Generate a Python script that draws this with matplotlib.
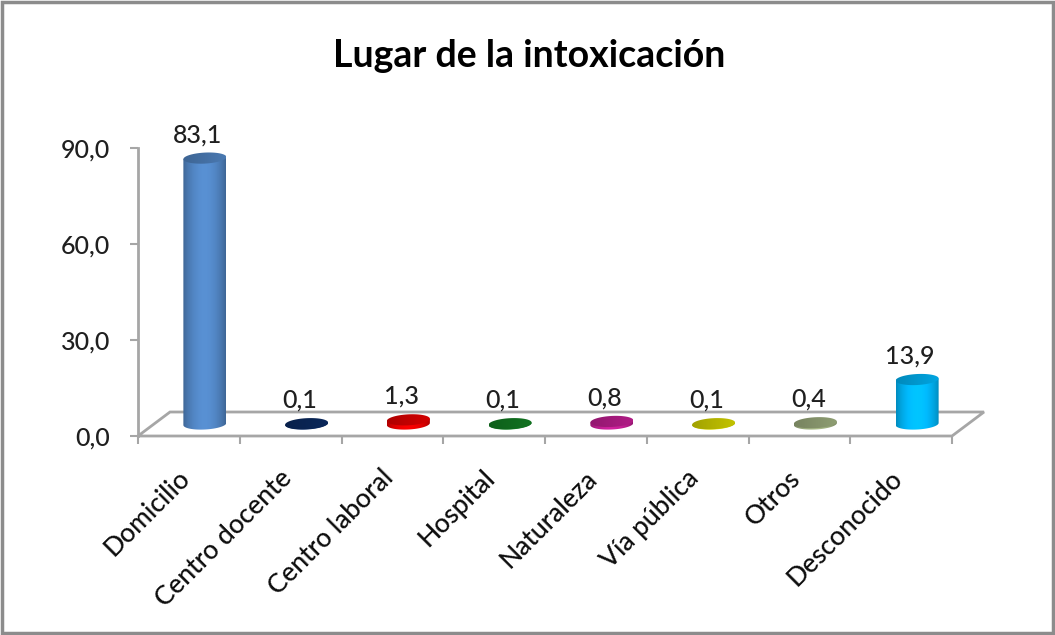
import numpy as np
import matplotlib
matplotlib.use("Agg")
import matplotlib.pyplot as plt
from matplotlib.patches import Polygon, Rectangle
from matplotlib.colors import to_rgb

# ---- data ----
categories = ["Domicilio", "Centro docente", "Centro laboral", "Hospital",
              "Naturaleza", "Vía pública", "Otros", "Desconocido"]
values = [83.1, 0.1, 1.3, 0.1, 0.8, 0.1, 0.4, 13.9]
bar_colors = ["#4F81BD", "#0B2A60", "#E00000", "#127A22",
              "#BB1E8E", "#CFCF00", "#98A87A", "#00B0F0"]
yticks = [0, 30, 60, 90]
ytick_labels = ["0,0", "30,0", "60,0", "90,0"]
title = "Lugar de la intoxicación"

plt.rcParams['font.family'] = ['Lato', 'DejaVu Sans']
plt.rcParams['font.weight'] = 'medium'

W_PX, H_PX = 1055, 635
fig = plt.figure(figsize=(W_PX / 100, H_PX / 100), dpi=100)
fig.patch.set_facecolor('white')

# axes: front plane of the 3D box
ax_l, ax_b, ax_w, ax_h = 138, 199, 814, 288
ax = fig.add_axes([ax_l / W_PX, ax_b / H_PX, ax_w / W_PX, ax_h / H_PX])
n = len(categories)
ax.set_xlim(0, n)
ax.set_ylim(0, 90)
ax.set_facecolor('none')

px_x = n / ax_w      # category units per pixel
px_y = 90 / ax_h     # value units per pixel

DX, DY = 32 * px_x, 24 * px_y       # depth offset of the back plane
BW = 43 * px_x                       # cylinder width
EB = 5.5 * px_y                      # ellipse half-height
SHEAR = 0.05 * px_y / px_x           # slight perspective tilt

GRAY = '#a6a6a6'
TXT = '#1f1f1f'

# floor
floor = Polygon([(0, 0), (n, 0), (n + DX, DY), (DX, DY)], closed=True,
                facecolor='white', edgecolor=GRAY, lw=2, zorder=1,
                clip_on=False)
ax.add_patch(floor)

# spines / ticks
for s in ['top', 'right', 'bottom']:
    ax.spines[s].set_visible(False)
ax.spines['left'].set_color(GRAY)
ax.spines['left'].set_linewidth(2)
ax.set_yticks(yticks)
ax.set_yticklabels(ytick_labels, fontsize=18, color=TXT, fontweight='medium')
ax.tick_params(axis='y', direction='out', length=6, width=1.5, color=GRAY, pad=14)
ax.set_xticks(range(n + 1))
ax.set_xticklabels([])
ax.tick_params(axis='x', direction='out', length=6, width=1.5, color=GRAY)


def ellipse_pts(cx, cy, t0, t1, num=60):
    t = np.linspace(t0, t1, num)
    a = BW / 2
    x = cx + a * np.cos(t)
    y = cy + EB * np.sin(t) + SHEAR * a * np.cos(t)
    return np.column_stack([x, y])


def shade(rgb, f):
    f = np.asarray(f)[None, :, None]
    col = np.array(rgb)[None, None, :] * f
    return np.clip(col, 0, 1)


tt = np.linspace(0, 1, 200)
body_f = 0.78 + 0.34 * np.sin(np.pi * tt) ** 0.8
top_f = 0.78 + 0.16 * tt

for i, (v, c) in enumerate(zip(values, bar_colors)):
    rgb = to_rgb(c)
    cx = i + 0.5 + DX / 2
    base = DY / 2
    top = base + v
    # body
    bottom_arc = ellipse_pts(cx, base, np.pi, 2 * np.pi)
    right_top = ellipse_pts(cx, top, 0, 0, 1)
    left_top = ellipse_pts(cx, top, np.pi, np.pi, 1)
    body_poly = np.vstack([bottom_arc, right_top, left_top])
    body = Polygon(body_poly, closed=True, facecolor='none', edgecolor='none',
                   zorder=3)
    ax.add_patch(body)
    im = ax.imshow(shade(rgb, body_f), extent=(cx - BW / 2, cx + BW / 2,
                   base - 3 * EB, top + 3 * EB), aspect='auto', zorder=3,
                   interpolation='bilinear', origin='lower')
    im.set_clip_path(body)
    # top ellipse
    top_poly = ellipse_pts(cx, top, 0, 2 * np.pi, 120)
    topp = Polygon(top_poly, closed=True, facecolor='none', edgecolor='none',
                   zorder=4)
    ax.add_patch(topp)
    im2 = ax.imshow(shade(rgb, top_f), extent=(cx - BW / 2, cx + BW / 2,
                    top - 3 * EB, top + 3 * EB), aspect='auto', zorder=4,
                    interpolation='bilinear', origin='lower')
    im2.set_clip_path(topp)
    # value label
    ax.annotate(f"{v:.1f}".replace('.', ','), xy=(cx - 7 * px_x, top),
                xytext=(0, 11.5), textcoords='offset points',
                ha='center', va='baseline', fontsize=18, color=TXT,
                fontweight='medium', zorder=5, annotation_clip=False)
    # category label
    ax.annotate(categories[i], xy=(i + 0.5, 0), xytext=(-2, -27.5),
                textcoords='offset points', rotation=45,
                rotation_mode='anchor', ha='right', va='center',
                fontsize=19, color='#0d0d0d', fontweight='medium',
                annotation_clip=False)

ax.set_xlim(0, n)
ax.set_ylim(0, 90)

fig.text(529 / W_PX, 1 - 56 / H_PX, title, ha='center', va='center',
         fontsize=27, fontweight='bold', color='black')

# outer frame
fig.patches.append(Rectangle((2 / W_PX, 2 / H_PX), 1 - 4 / W_PX, 1 - 4 / H_PX,
                             transform=fig.transFigure, fill=False,
                             edgecolor='#8c8c8c', lw=2.5))

fig.savefig('out.png', dpi=100, facecolor='white')
